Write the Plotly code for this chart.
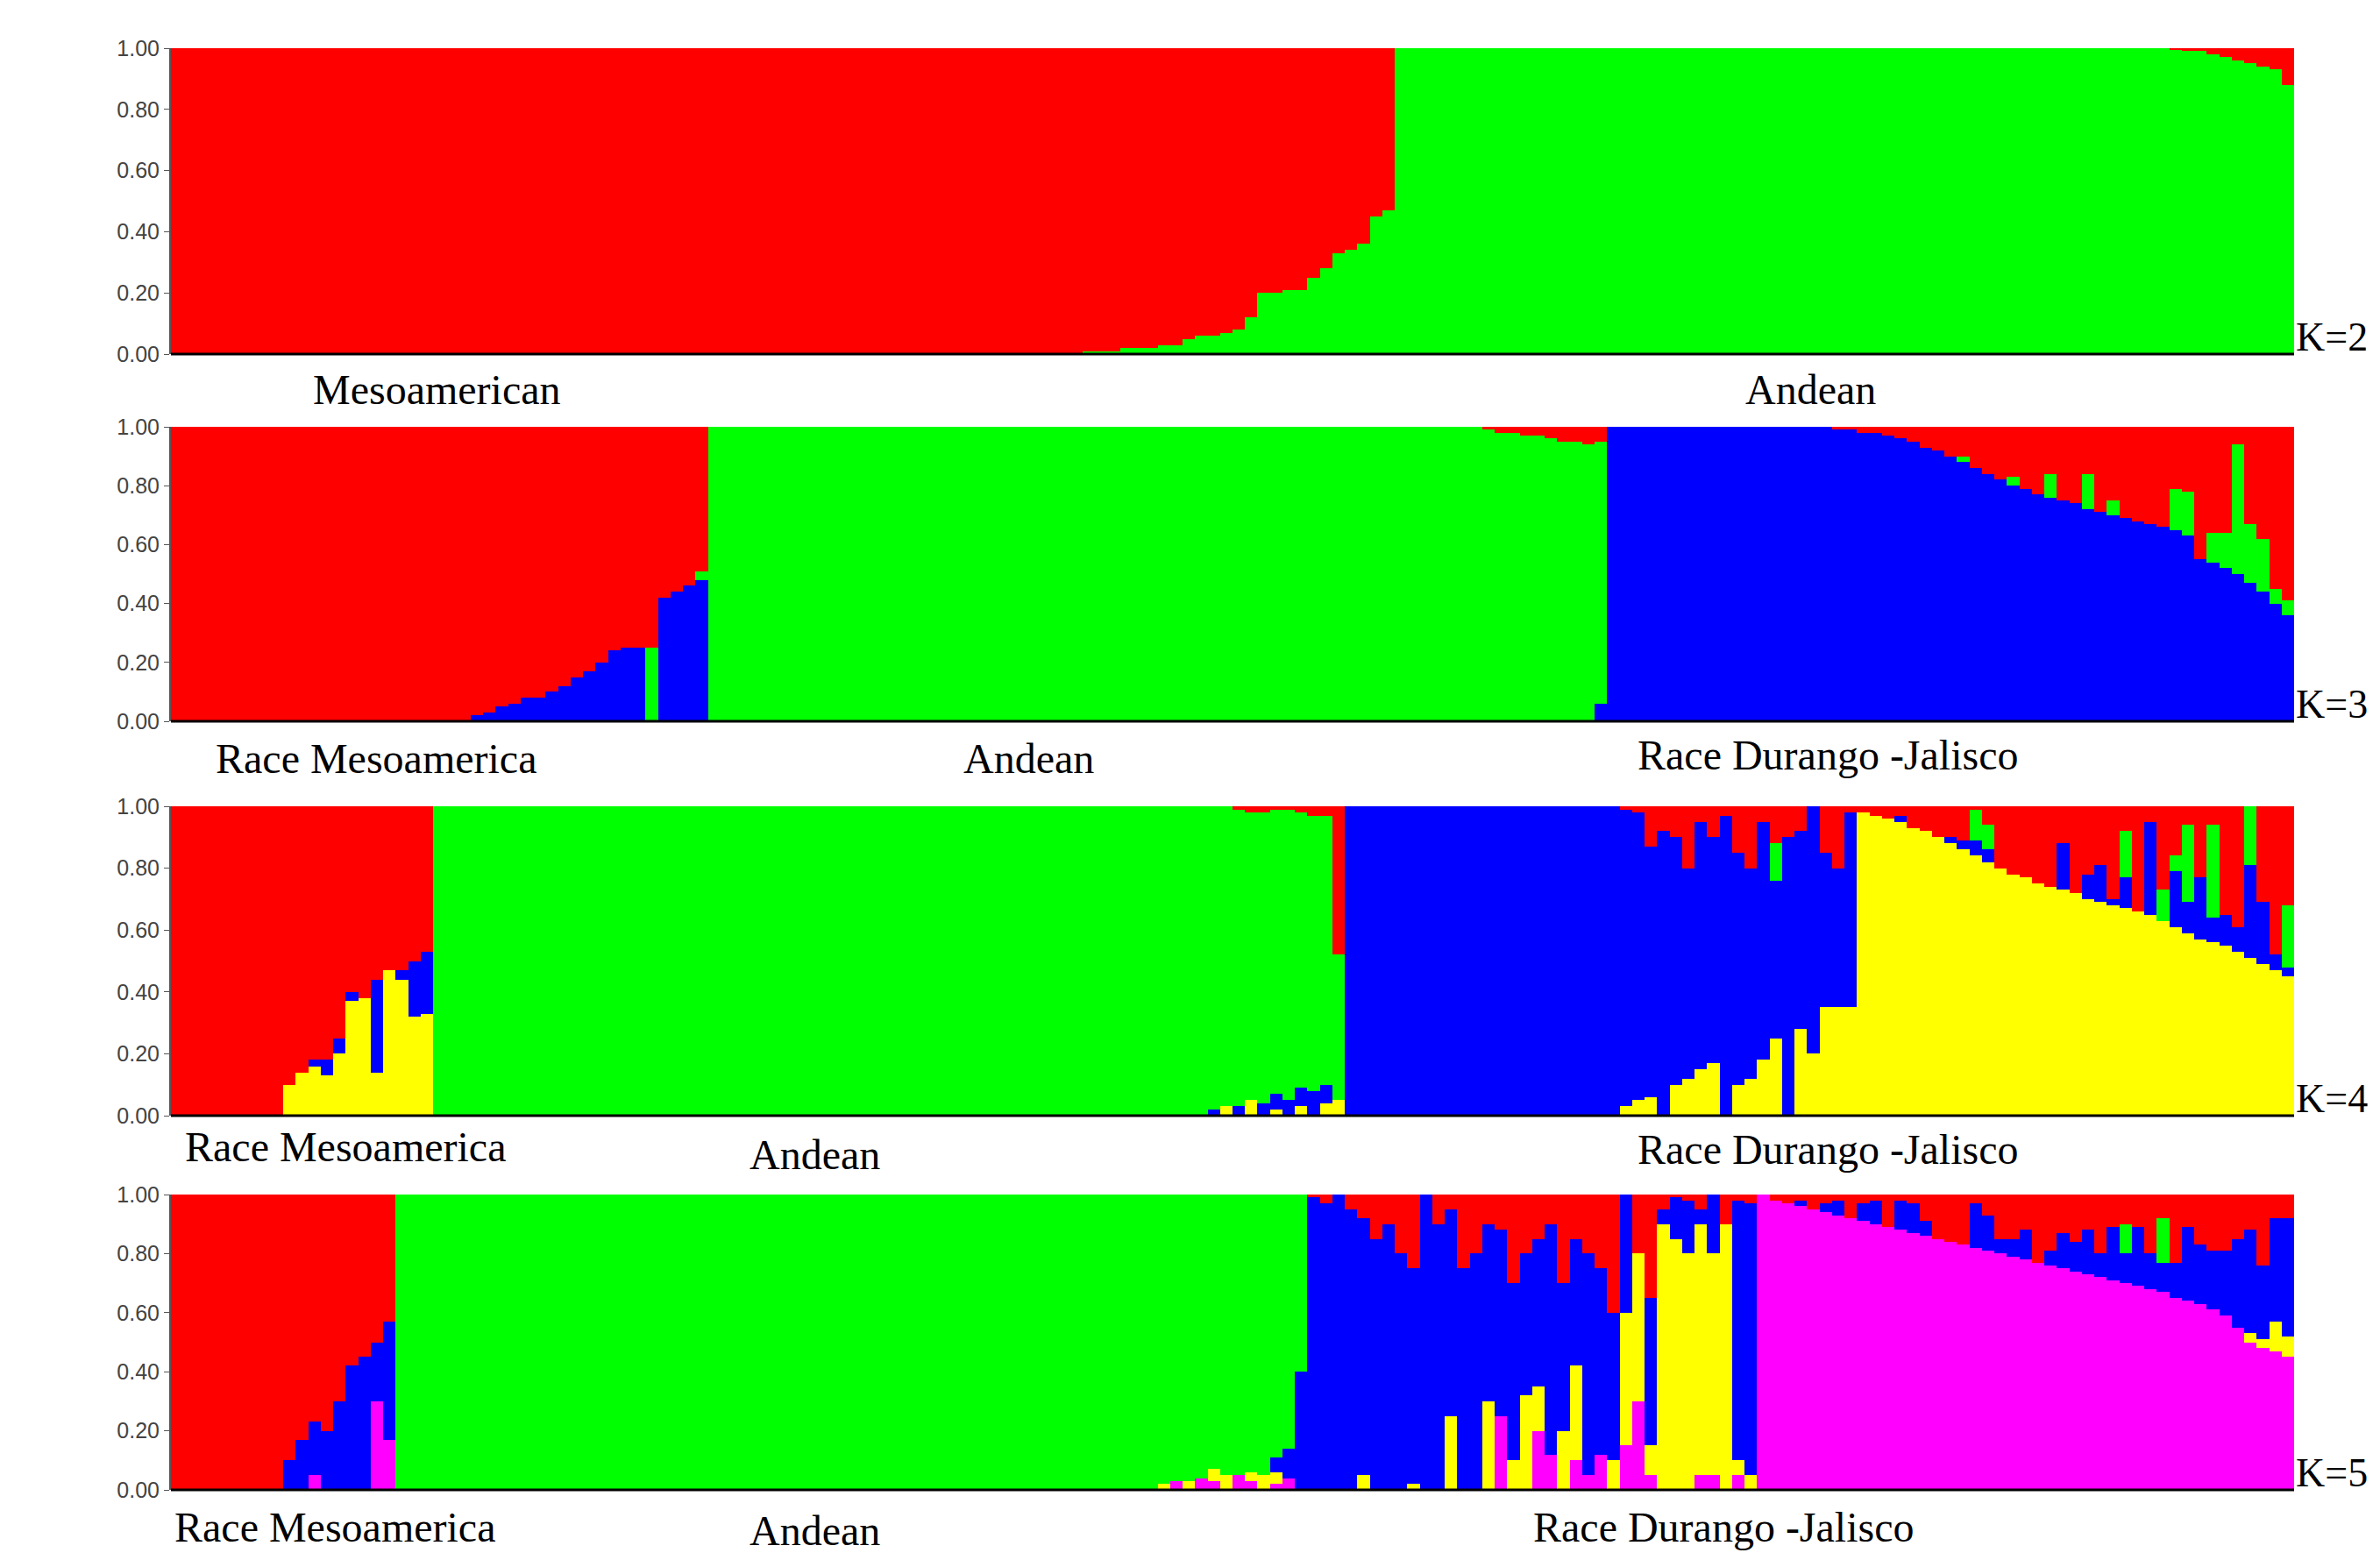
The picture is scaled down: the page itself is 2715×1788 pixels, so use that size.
import plotly.graph_objects as go

W, H = 2715, 1788
COLS = {"r": "#FF0000", "g": "#00FF00", "b": "#0000FF", "y": "#FFFF00", "m": "#FF00FF"}
ORDER = ["m", "y", "b", "g", "r"]  # bottom -> top

# ---------------- K=2 ----------------
k2_green_stair = [0.01, 0.01, 0.01, 0.02, 0.02, 0.02, 0.03, 0.03, 0.05, 0.06, 0.06, 0.07, 0.08,
                  0.12, 0.20, 0.20, 0.21, 0.21, 0.25, 0.28, 0.33, 0.34, 0.36, 0.45, 0.47]
k2_red_tail = [0.005, 0.01, 0.01, 0.02, 0.03, 0.04, 0.05, 0.06, 0.07, 0.12]
K2 = ([{"r": 1.0}] * 73
      + [{"g": v} for v in k2_green_stair]
      + [{"g": 1.0}] * 62
      + [{"r": v} for v in k2_red_tail])
K2_main = ["r"] * 98 + ["g"] * 72

# ---------------- K=3 ----------------
k3_blue_mix = [0.02, 0.03, 0.05, 0.06, 0.08, 0.08, 0.10, 0.12, 0.15, 0.17, 0.20, 0.24, 0.25, 0.25]
k3_blue_hi = [0.42, 0.44, 0.46]
k3_red_top = [0.01, 0.02, 0.02, 0.03, 0.03, 0.04, 0.05, 0.05, 0.06]
k3_blue_tail = [0.99, 0.99, 0.98, 0.98, 0.97, 0.96, 0.95, 0.93, 0.92, 0.90, 0.88, 0.86, 0.84,
                0.82, 0.80, 0.79, 0.77, 0.76, 0.75, 0.74, 0.72, 0.71, 0.70, 0.69, 0.68, 0.67,
                0.66, 0.65, 0.63, 0.55, 0.54, 0.52, 0.50, 0.47, 0.44, 0.40, 0.36]
k3_green_tail = [0, 0, 0, 0, 0, 0, 0, 0, 0, 0, 0.02, 0, 0, 0, 0.03, 0, 0, 0.08, 0, 0, 0.12, 0,
                 0.05, 0, 0, 0, 0, 0.14, 0.15, 0, 0.10, 0.12, 0.44, 0.20, 0.18, 0.05, 0.05]
K3 = ([{"r": 1.0}] * 24
      + [{"b": v} for v in k3_blue_mix] + [{"g": 0.25}]
      + [{"b": v} for v in k3_blue_hi] + [{"b": 0.48, "g": 0.03}]
      + [{"g": 1.0}] * 62
      + [{"r": v} for v in k3_red_top] + [{"r": 0.05, "b": 0.06}]
      + [{"b": 1.0}] * 18
      + [{"b": b, "g": g} for b, g in zip(k3_blue_tail, k3_green_tail)])
K3_main = ["r"] * 43 + ["g"] * 72 + ["b"] * 18 + ["r"] * 37

# ---------------- K=4 ----------------
k4_y_head = [0.10, 0.14, 0.16, 0.13, 0.20, 0.37, 0.38, 0.14, 0.47, 0.44, 0.32, 0.33]
k4_b_head = [0, 0, 0.02, 0.05, 0.05, 0.03, 0, 0.30, 0, 0.03, 0.18, 0.20]
k4_green_bits = [(0.02, 0, 0), (0, 0.03, 0), (0.03, 0, 0.01), (0, 0.05, 0.02), (0.04, 0, 0.02),
                 (0.05, 0.02, 0.01), (0.05, 0, 0.01), (0.06, 0.03, 0.02), (0.08, 0, 0.03),
                 (0.06, 0.04, 0.03), (0, 0.05, 0.48)]
k4_y_blue = [0.03, 0.05, 0.06, 0, 0.10, 0.12, 0.15, 0.17, 0, 0.10, 0.12, 0.18, 0.25, 0, 0.28,
             0.20, 0.35, 0.35, 0.35]
k4_r_blue = [0.01, 0.02, 0.13, 0.08, 0.10, 0.20, 0.05, 0.10, 0.03, 0.15, 0.20, 0.05, 0.12, 0.10,
             0.08, 0, 0.15, 0.20, 0.02]
k4_g_blue = [0, 0, 0, 0, 0, 0, 0, 0, 0, 0, 0, 0, 0.12, 0, 0, 0, 0, 0, 0]
k4_y_tail = [0.98, 0.97, 0.96, 0.95, 0.93, 0.92, 0.90, 0.88, 0.86, 0.84, 0.82, 0.80, 0.78, 0.77,
             0.75, 0.74, 0.73, 0.72, 0.70, 0.69, 0.68, 0.67, 0.66, 0.65, 0.63, 0.61, 0.59, 0.57,
             0.56, 0.55, 0.53, 0.51, 0.49, 0.47, 0.45]
k4_b_tail = [0, 0, 0, 0.02, 0, 0, 0, 0.02, 0.03, 0.05, 0.04, 0, 0, 0, 0, 0, 0.15, 0, 0.08, 0.12,
             0.02, 0.10, 0, 0.30, 0, 0.18, 0.10, 0.20, 0.08, 0.10, 0.08, 0.30, 0.20, 0.05, 0.03]
k4_g_tail = [0, 0, 0, 0, 0, 0, 0, 0, 0, 0.10, 0.08, 0, 0, 0, 0, 0, 0, 0, 0, 0, 0, 0.15, 0, 0,
             0.10, 0.05, 0.25, 0, 0.30, 0, 0, 0.27, 0, 0, 0.20]
K4 = ([{"r": 1.0}] * 9
      + [{"y": y, "b": b} for y, b in zip(k4_y_head, k4_b_head)]
      + [{"g": 1.0}] * 62
      + [{"b": b, "y": y, "r": r} for b, y, r in k4_green_bits]
      + [{"b": 1.0}] * 22
      + [{"y": y, "r": r, "g": g} for y, r, g in zip(k4_y_blue, k4_r_blue, k4_g_blue)]
      + [{"y": y, "b": b, "g": g} for y, b, g in zip(k4_y_tail, k4_b_tail, k4_g_tail)])
K4_main = ["r"] * 21 + ["g"] * 73 + ["b"] * 41 + ["r"] * 35

# ---------------- K=5 ----------------
k5_b_head = [0.10, 0.17, 0.18, 0.20, 0.30, 0.42, 0.45, 0.20, 0.40]
k5_m_head = [0, 0, 0.05, 0, 0, 0, 0, 0.30, 0.17]
k5_y_green = [0.02, 0, 0.03, 0, 0.04, 0.05, 0, 0.03, 0.05, 0.04, 0, 0]
k5_m_green = [0, 0.03, 0, 0.04, 0.03, 0, 0.05, 0.03, 0, 0.02, 0.04, 0]
k5_b_green = [0, 0, 0, 0, 0, 0, 0, 0, 0, 0.05, 0.10, 0.40]
k5_r_blue = [0.01, 0.03, 0, 0.05, 0.08, 0.15, 0.10, 0.20, 0.25, 0, 0.10, 0.05, 0.25, 0.20,
             0.10, 0.12, 0.30, 0.20, 0.15, 0.10, 0.30, 0.15, 0.20, 0.25, 0.40, 0, 0.20, 0.35,
             0.05, 0.01, 0.02, 0.05, 0, 0.10, 0.02, 0.03]
k5_y_blue = [0, 0, 0, 0, 0.05, 0, 0, 0, 0.02, 0, 0, 0.25, 0, 0, 0.30, 0, 0.10, 0.32, 0.15,
             0, 0.20, 0.32, 0, 0, 0.10, 0.45, 0.50, 0.10, 0.90, 0.85, 0.80, 0.85, 0.75, 0.90,
             0.05, 0.05]
k5_m_blue = [0, 0, 0, 0, 0, 0, 0, 0, 0, 0, 0, 0, 0, 0, 0, 0.25, 0, 0, 0.20, 0.12, 0, 0.10,
             0.05, 0.12, 0, 0.15, 0.30, 0.05, 0, 0, 0, 0.05, 0.05, 0, 0.05, 0]
k5_m_tail = [0.98, 0.97, 0.96, 0.95, 0.94, 0.93, 0.92, 0.91, 0.90, 0.89, 0.88, 0.87, 0.86,
             0.85, 0.84, 0.83, 0.82, 0.81, 0.80, 0.79, 0.78, 0.77, 0.76, 0.75, 0.74, 0.73,
             0.72, 0.71, 0.70, 0.69, 0.68, 0.67, 0.65, 0.64, 0.63, 0.61, 0.59, 0.55, 0.50,
             0.48, 0.47, 0.45]
k5_b_tail = [0, 0, 0.02, 0, 0.03, 0.05, 0, 0.06, 0.08, 0, 0.10, 0.10, 0.05, 0, 0, 0, 0.15, 0.12,
             0.05, 0.06, 0.10, 0, 0.05, 0.12, 0.10, 0.15, 0.08, 0.18, 0.10, 0.20, 0.12, 0.10,
             0.12, 0.25, 0.20, 0.20, 0.22, 0.30, 0.35, 0.25, 0.35, 0.40]
k5_y_tail = [0] * 38 + [0.03, 0.03, 0.10, 0.07]
k5_g_tail = [0] * 28 + [0.10, 0, 0, 0.15, 0, 0, 0, 0, 0, 0, 0, 0, 0, 0]
K5 = ([{"r": 1.0}] * 9
      + [{"b": b, "m": m} for b, m in zip(k5_b_head, k5_m_head)]
      + [{"g": 1.0}] * 61
      + [{"y": y, "m": m, "b": b} for y, m, b in zip(k5_y_green, k5_m_green, k5_b_green)]
      + [{"r": r, "y": y, "m": m} for r, y, m in zip(k5_r_blue, k5_y_blue, k5_m_blue)]
      + [{"m": 1.0}]
      + [{"m": m, "b": b, "y": y, "g": g} for m, b, y, g in zip(k5_m_tail, k5_b_tail, k5_y_tail, k5_g_tail)])
K5_main = ["r"] * 18 + ["g"] * 73 + ["b"] * 36 + ["r"] * 43

PANELS = [("K=2", K2, K2_main), ("K=3", K3, K3_main), ("K=4", K4, K4_main), ("K=5", K5, K5_main)]

LABELS = [
    [("Mesoamerican", 283, 252), ("Andean", 1188, 252)],
    [("Race Mesoamerica", 243, 495), ("Andean", 673, 495), ("Race Durango -Jalisco", 1200, 493)],
    [("Race Mesoamerica", 223, 751), ("Andean", 532, 756), ("Race Durango -Jalisco", 1200, 753)],
    [("Race Mesoamerica", 216, 1002), ("Andean", 532, 1004), ("Race Durango -Jalisco", 1131, 1002)],
]
K_LABEL_Y = [218, 457, 717, 965]

SC = W / 1568.0
ML, MR, MT, MB = 187, 106, 47, 96
PW, PH = W - ML - MR, H - MT - MB
panel_px = [(47, 396), (479, 815), (912, 1265), (1355, 1692)]

def px_x(dx):
    return (dx * SC - ML) / PW

def px_y(py):
    return 1 - (py - MT) / PH

fig = go.Figure()
anns = []
for p, (name, data, main) in enumerate(PANELS):
    n = len(data)
    xs = list(range(n))
    vals = {c: [] for c in ORDER}
    for ind, mc in zip(data, main):
        full = dict(ind)
        rest = 1.0 - sum(full.values())
        if rest > 1e-9:
            full[mc] = full.get(mc, 0) + rest
        for c in ORDER:
            vals[c].append(full.get(c, 0))
    ax = "" if p == 0 else str(p + 1)
    for c in ORDER:
        if sum(vals[c]) == 0:
            continue
        fig.add_trace(go.Bar(x=xs, y=vals[c], marker=dict(color=COLS[c], line=dict(width=0)),
                             xaxis="x" + ax, yaxis="y" + ax, showlegend=False, hoverinfo="skip"))
    top, bot = panel_px[p]
    dom = [px_y(bot), px_y(top)]
    fig.layout["xaxis" + ax] = dict(domain=[0, 1], range=[-0.5, n - 0.5], visible=False,
                                    anchor="y" + ax)
    fig.layout["yaxis" + ax] = dict(domain=dom, range=[0, 1.0], anchor="x" + ax,
                                    tickvals=[0, 0.2, 0.4, 0.6, 0.8, 1.0], tickformat=".2f",
                                    ticks="outside", ticklen=6, tickcolor="#555",
                                    showgrid=False, zeroline=False, showline=True,
                                    linecolor="#555", linewidth=2,
                                    tickfont=dict(family="Liberation Sans", size=25, color="#444"))
    anns.append(dict(x=1.0, y=dom[0], xref="paper", yref="paper", text=name, showarrow=False,
                     xanchor="left", yanchor="bottom", yshift=-8,
                     font=dict(family="Liberation Serif", size=46, color="black")))
    for txt, dx, dy in LABELS[p]:
        anns.append(dict(x=px_x(dx), y=px_y(dy * SC), xref="paper", yref="paper", text=txt,
                         showarrow=False, xanchor="center", yanchor="middle",
                         font=dict(family="Liberation Serif", size=48, color="black")))
    # bottom axis line
    fig.add_shape(type="line", xref="paper", yref="paper", x0=0, x1=1, y0=dom[0], y1=dom[0],
                  line=dict(color="black", width=3))

fig.update_layout(width=W, height=H, margin=dict(l=ML, r=MR, t=MT, b=MB), barmode="stack",
                  bargap=0, plot_bgcolor="white", paper_bgcolor="white", annotations=anns)
fig.write_html("out.html")
